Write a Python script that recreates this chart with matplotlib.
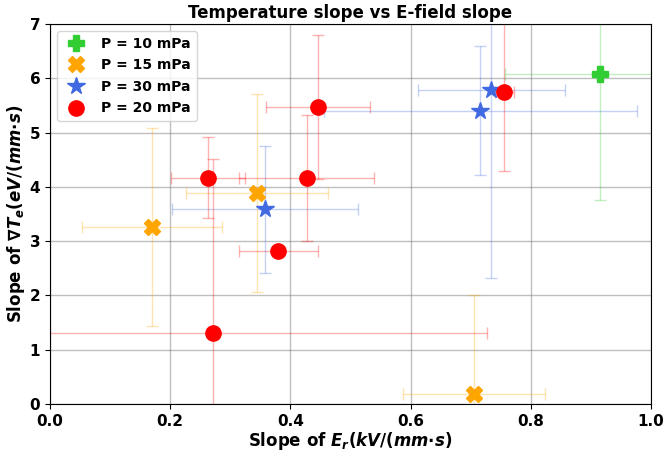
import matplotlib.pyplot as plt
from matplotlib.colors import to_rgba

plt.rcParams['mathtext.fontset'] = 'custom'
plt.rcParams['mathtext.it'] = 'DejaVu Sans:italic:bold'
plt.rcParams['mathtext.rm'] = 'DejaVu Sans:bold'
plt.rcParams['mathtext.bf'] = 'DejaVu Sans:bold'

# 各压强下的斜率数据 (x: E_r 斜率, y: ∇T_e 斜率)
x_10 = [0.915]
y_10 = [6.08]
xerr_10 = [0.158]
yerr_10 = [2.32]

x_15 = [0.170, 0.344, 0.705]
y_15 = [3.26, 3.89, 0.19]
xerr_15 = [0.117, 0.118, 0.118]
yerr_15 = [1.83, 1.83, 1.82]

x_30 = [0.358, 0.734, 0.716]
y_30 = [3.59, 5.78, 5.40]
xerr_30 = [0.155, 0.122, 0.260]
yerr_30 = [1.17, 3.45, 1.19]

x_20 = [0.446, 0.756, 0.263, 0.427, 0.380, 0.271]
y_20 = [5.47, 5.74, 4.17, 4.17, 2.82, 1.30]
xerr_20 = [0.086, 0.016, 0.062, 0.112, 0.066, 0.456]
yerr_20 = [1.33, 1.44, 0.75, 1.16, 0.05, 3.21]

series = [
    ('P = 10 mPa', x_10, y_10, xerr_10, yerr_10, 'limegreen', 'P', 11),
    ('P = 15 mPa', x_15, y_15, xerr_15, yerr_15, 'orange', 'X', 11),
    ('P = 30 mPa', x_30, y_30, xerr_30, yerr_30, 'royalblue', '*', 13),
    ('P = 20 mPa', x_20, y_20, xerr_20, yerr_20, 'red', 'o', 11),
]

fig, ax = plt.subplots(figsize=(6.63, 4.53), dpi=100)
fig.subplots_adjust(left=0.0754, right=0.982, top=0.947, bottom=0.108)

for label, x, y, xe, ye, c, m, ms in series:
    # 误差棒(半透明), 点单独画以便图例只显示标记
    ax.errorbar(x, y, xerr=xe, yerr=ye, fmt='none',
                ecolor=to_rgba(c, 0.3), elinewidth=1, capsize=4,
                capthick=1, zorder=2)
    ax.plot(x, y, m, color=c, ms=ms, linestyle='none', label=label, zorder=3)

ax.set_xlim(0, 1.0)
ax.set_ylim(0, 7)
ax.grid(True, color='gray', alpha=0.5, linewidth=1)
ax.set_title('Temperature slope vs E-field slope', fontsize=12, fontweight='bold', pad=4)
ax.set_xlabel(r'Slope of $E_r(kV/(mm{\cdot}s)$', fontsize=12, fontweight='bold', labelpad=1)
ax.set_ylabel(r'Slope of $\nabla T_e(eV/(mm{\cdot}s)$', fontsize=12, fontweight='bold', labelpad=2)
for t in ax.get_xticklabels() + ax.get_yticklabels():
    t.set_fontweight('bold')
    t.set_fontsize(11)
ax.legend(loc='upper left', prop={'weight': 'bold', 'size': 10}, labelspacing=0.55)

fig.savefig('out.png', dpi=100)
